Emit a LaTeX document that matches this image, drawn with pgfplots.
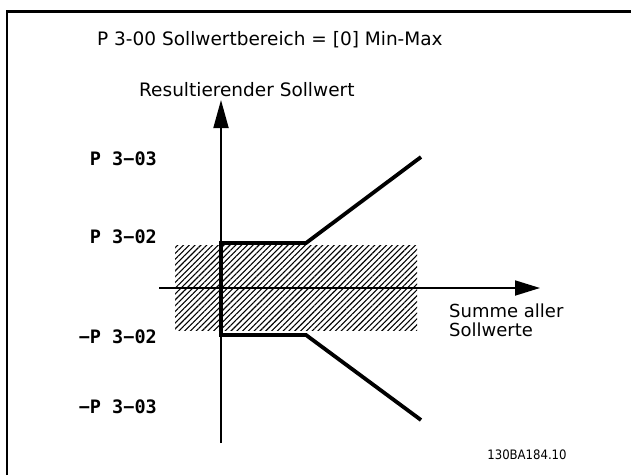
\documentclass[border=0pt]{standalone}
\usepackage{pgfplots}
\pgfplotsset{compat=1.18}
\usepackage{fontspec}
\setmainfont{DejaVu Sans}
\newfontfamily\labfont{DejaVu Sans Mono}
\newfontfamily\codefont{DejaVu Sans Condensed}
\usetikzlibrary{arrows.meta,patterns.meta}
\begin{document}
\begin{tikzpicture}
\begin{axis}[
  scale only axis, width=631pt, height=475pt,
  xmin=0, xmax=631, ymin=0, ymax=475,
  hide axis, clip=false, anchor=south west, at={(0,0)},
]
% frame
\addplot[black, line width=2.4pt] coordinates {(7,0) (7,463.5) (631,463.5)};
% hatched band
\addplot[draw=none, pattern={Lines[angle=45,distance=4.1pt,line width=1.1pt]}, pattern color=black]
  coordinates {(175,145) (417,145) (417,230) (175,230)} -- cycle;
% axes
\addplot[black, line width=1.8pt, -{Triangle[length=28pt,width=15pt]}] coordinates {(221,32) (221,375)};
\addplot[black, line width=1.8pt, -{Triangle[length=25pt,width=15pt]}] coordinates {(159,187) (540,187)};
% curves
\addplot[black, line width=3.8pt, line join=miter] coordinates {(221,232) (306,232) (421,318)};
\addplot[black, line width=3.8pt, line join=miter] coordinates {(221,140) (306,140) (421,55)};
\addplot[black, line width=3.8pt] coordinates {(221,233.9) (221,138.1)};
% texts
\node[anchor=west, font=\fontsize{18.5}{20}\selectfont, inner sep=0pt] at (axis cs:97,435) {P 3-00 Sollwertbereich = [0] Min-Max};
\node[anchor=west, font=\fontsize{18.5}{20}\selectfont, inner sep=0pt] at (axis cs:139,385) {Resultierender Sollwert};
\node[anchor=north west, align=left, font=\fontsize{18}{19}\selectfont, inner sep=0pt] at (axis cs:449,171) {Summe aller\\Sollwerte};
\node[anchor=east, font=\labfont\bfseries\fontsize{18.5}{20}\selectfont, inner sep=0pt] at (axis cs:157,316) {P 3−03};
\node[anchor=east, font=\labfont\bfseries\fontsize{18.5}{20}\selectfont, inner sep=0pt] at (axis cs:157,238) {P 3−02};
\node[anchor=east, font=\labfont\bfseries\fontsize{18.5}{20}\selectfont, inner sep=0pt] at (axis cs:157,138) {−P 3−02};
\node[anchor=east, font=\labfont\bfseries\fontsize{18.5}{20}\selectfont, inner sep=0pt] at (axis cs:157,68) {−P 3−03};
\node[anchor=center, font=\codefont\fontsize{13}{14}\selectfont, inner sep=0pt] at (axis cs:527,20) {130BA184.10};
\end{axis}
\pgfresetboundingbox
\path[use as bounding box] (0,0) rectangle (631pt,475pt);
\end{tikzpicture}
\end{document}
